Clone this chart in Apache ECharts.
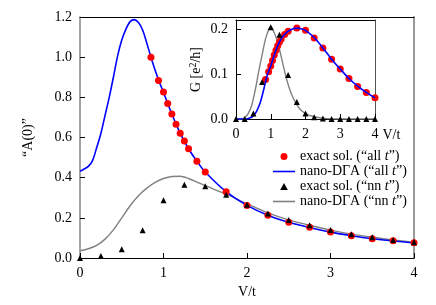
<!DOCTYPE html>
<html><head><meta charset="utf-8">
<script src="https://cdn.jsdelivr.net/npm/echarts@6/dist/echarts.min.js"></script>
<style>html,body{margin:0;padding:0;background:#fff}#c{width:436px;height:305px}</style>
</head><body><div id="c"></div>
<script>
// ---- Main plot data: A(0) vs V/t ----
const mainExactAll = [[0.85,1.0],[0.94,0.884],[1.0,0.826],[1.05,0.769],[1.1,0.717],[1.15,0.666],[1.2,0.621],[1.25,0.583],[1.3,0.544],[1.4,0.482],[1.5,0.428],[1.75,0.330],[2,0.262],[2.25,0.213],[2.5,0.178],[2.75,0.153],[3,0.129],[3.25,0.111],[3.5,0.096],[3.75,0.086],[4,0.076]];
const mainDGAAll = [[0,0.432],[0.05,0.443],[0.1,0.456],[0.15,0.485],[0.2,0.55],[0.25,0.62],[0.3,0.71],[0.35,0.80],[0.4,0.90],[0.45,1.005],[0.5,1.085],[0.55,1.14],[0.6,1.177],[0.65,1.187],[0.7,1.172],[0.75,1.135],[0.8,1.07],[0.85,1.0],[0.9,0.935],[0.95,0.877],[1.0,0.824],[1.1,0.717],[1.2,0.621],[1.3,0.544],[1.4,0.482],[1.5,0.428],[1.75,0.330],[2.0,0.262],[2.25,0.213],[2.5,0.178],[2.75,0.152],[3.0,0.129],[3.25,0.111],[3.5,0.096],[3.75,0.085],[4.0,0.075]];
const mainExactNN = [[0,0],[0.25,0.01],[0.5,0.043],[0.75,0.138],[1,0.287],[1.25,0.365],[1.5,0.357],[1.75,0.315],[2,0.265],[2.25,0.222],[2.5,0.189],[2.75,0.163],[3,0.139],[3.25,0.118],[3.5,0.103],[3.75,0.09],[4,0.078]];
const mainDGANN = [[0,0.036],[0.1,0.046],[0.2,0.063],[0.3,0.094],[0.4,0.14],[0.5,0.2],[0.6,0.26],[0.7,0.31],[0.8,0.348],[0.9,0.377],[1.0,0.396],[1.1,0.406],[1.2,0.407],[1.3,0.396],[1.4,0.378],[1.5,0.36],[1.75,0.318],[2.0,0.27],[2.25,0.225],[2.5,0.19],[2.75,0.163],[3.0,0.139],[3.25,0.119],[3.5,0.103],[3.75,0.09],[4.0,0.079]];
// ---- Inset data: G vs V/t ----
const insetExactAll = [[0.85,0.088],[0.94,0.105],[1.0,0.118],[1.05,0.13],[1.1,0.142],[1.15,0.153],[1.2,0.163],[1.25,0.171],[1.3,0.178],[1.4,0.188],[1.5,0.195],[1.75,0.202],[2,0.197],[2.25,0.18],[2.5,0.158],[2.75,0.133],[3,0.111],[3.25,0.09],[3.5,0.072],[3.75,0.059],[4,0.047]];
const insetDGAAll = [[0,0],[0.3,0],[0.4,0.002],[0.5,0.007],[0.6,0.018],[0.7,0.037],[0.8,0.066],[0.9,0.098],[1.0,0.118],[1.1,0.142],[1.2,0.163],[1.3,0.178],[1.4,0.188],[1.5,0.195],[1.6,0.199],[1.75,0.202],[1.9,0.2],[2.0,0.197],[2.25,0.181],[2.5,0.158],[2.75,0.133],[3,0.111],[3.25,0.09],[3.5,0.073],[3.75,0.059],[4,0.047]];
const insetExactNN = [[0,0],[0.25,0],[0.5,0.012],[0.75,0.082],[1,0.204],[1.25,0.187],[1.5,0.098],[1.75,0.038],[2,0.012],[2.25,0.004],[2.5,0.001],[2.75,0],[3,0],[3.25,0],[3.5,0],[3.75,0],[4,0]];
const insetDGANN = [[0,0],[0.15,0],[0.25,0.003],[0.35,0.012],[0.45,0.03],[0.55,0.063],[0.65,0.104],[0.75,0.142],[0.85,0.178],[0.95,0.2],[1.0,0.206],[1.05,0.2],[1.15,0.182],[1.25,0.155],[1.35,0.122],[1.45,0.09],[1.55,0.065],[1.65,0.046],[1.75,0.032],[1.85,0.021],[2.0,0.012],[2.25,0.005],[2.5,0.002],[3,0],[4,0]];
// ---- Labels ----
const seriesNames = ['exact sol. (“all t”)','nano-DΓA (“all t”)','exact sol. (“nn t”)','nano-DΓA (“nn t”)'];
const mainXName = 'V/t';
const mainYName = '“A(0)”';
const insetXName = 'V/t';

const FF = '"Liberation Serif","DejaVu Serif",serif';
const lbl = {fontFamily: FF, fontSize: 14, color: '#000'};
const lgd = {fontFamily: FF, fontSize: 14, color: '#000'};
const chart = echarts.init(document.getElementById('c'), null, {renderer: 'canvas'});

function baseX(grid, pos, show, color, extra) {
  return Object.assign({
    type: 'value', gridIndex: grid, position: pos, min: 0, max: 4, interval: 1,
    axisLine: {show: true, onZero: false, lineStyle: {color: color, width: 1}},
    axisTick: {show: show, inside: true, length: 5, lineStyle: {color: '#000'}},
    axisLabel: Object.assign({show: show, margin: 8}, lbl),
    splitLine: {show: false}
  }, extra || {});
}
function baseY(grid, pos, show, color, max, interval, extra) {
  return Object.assign({
    type: 'value', gridIndex: grid, position: pos, min: 0, max: max, interval: interval,
    axisLine: {show: true, onZero: false, lineStyle: {color: color, width: 1}},
    axisTick: {show: show, inside: true, length: 5, lineStyle: {color: '#000'}},
    axisLabel: Object.assign({show: show, margin: 8, formatter: v => v.toFixed(1)}, lbl),
    splitLine: {show: false}
  }, extra || {});
}

const lineIcon = 'path://M0,0H22V1.6H0Z';
const triIcon = 'path://M0,10L5.5,0L11,10Z';

chart.setOption({
  animation: false,
  backgroundColor: '#fff',
  grid: [
    {left: 80, right: 22, top: 17, bottom: 47},
    {left: 236, right: 61, top: 20, bottom: 186}
  ],
  xAxis: [
    baseX(0, 'bottom', true, '#000', {name: mainXName, nameLocation: 'middle', nameGap: 21, nameTextStyle: lbl}),
    baseX(0, 'top', false, '#000'),
    baseX(1, 'bottom', true, '#000', {name: insetXName, nameLocation: 'end', nameGap: 7,
      nameTextStyle: Object.assign({verticalAlign: 'top', padding: [9, 0, 0, 0]}, lbl)}),
    baseX(1, 'top', false, '#000')
  ],
  yAxis: [
    baseY(0, 'left', true, '#888', 1.2, 0.2, {name: mainYName, nameLocation: 'middle', nameGap: 45, nameTextStyle: lbl, axisLine: {show: true, onZero: false, lineStyle: {color: '#888', width: 1.5}}}),
    baseY(0, 'right', false, '#999', 1.2, 0.2, {axisLine: {show: true, onZero: false, lineStyle: {color: '#999', width: 2}}}),
    baseY(1, 'left', true, '#000', 0.22, 0.1, {name: 'G [e{s|2}/h]', nameLocation: 'middle', nameGap: 32,
      nameTextStyle: Object.assign({rich: {s: {fontFamily: FF, fontSize: 10, verticalAlign: 'top', padding: [0, 0, 6, 0]}}}, lbl)}),
    baseY(1, 'right', false, '#555', 0.22, 0.1)
  ],
  legend: {
    orient: 'vertical', left: 268, top: 144, itemWidth: 22, itemHeight: 7, itemGap: 0,
    symbolKeepAspect: true,
    data: [
      {name: seriesNames[0], icon: 'circle'},
      {name: seriesNames[1], icon: lineIcon},
      {name: seriesNames[2], icon: triIcon},
      {name: seriesNames[3], icon: lineIcon}
    ],
    formatter: name => name.replace(/t”\)$/, '{i|t}”)'),
    textStyle: Object.assign({lineHeight: 15, rich: {i: {fontFamily: FF, fontSize: 14, fontStyle: 'italic', color: '#000'}}}, lgd)
  },
  series: [
    {name: seriesNames[1], type: 'line', xAxisIndex: 0, yAxisIndex: 0, data: mainDGAAll, symbol: 'none', smooth: 0.3, lineStyle: {color: '#0000ff', width: 1.6}, itemStyle: {color: '#0000ff'}, z: 3},
    {name: seriesNames[3], type: 'line', xAxisIndex: 0, yAxisIndex: 0, data: mainDGANN, symbol: 'none', smooth: 0.3, lineStyle: {color: '#808080', width: 1.4}, itemStyle: {color: '#808080'}, z: 2},
    {name: seriesNames[0], type: 'scatter', xAxisIndex: 0, yAxisIndex: 0, data: mainExactAll, symbol: 'circle', symbolSize: 7, itemStyle: {color: '#ff0000', opacity: 1}, z: 4},
    {name: seriesNames[2], type: 'scatter', xAxisIndex: 0, yAxisIndex: 0, data: mainExactNN, symbol: 'triangle', symbolSize: 6, itemStyle: {color: '#000', opacity: 1}, z: 5},
    {name: seriesNames[3], type: 'line', xAxisIndex: 2, yAxisIndex: 2, data: insetDGANN, symbol: 'none', smooth: 0.3, lineStyle: {color: '#808080', width: 1.4}, itemStyle: {color: '#808080'}, z: 2},
    {name: seriesNames[0], type: 'scatter', xAxisIndex: 2, yAxisIndex: 2, data: insetExactAll, symbol: 'circle', symbolSize: 7, itemStyle: {color: '#ff0000', opacity: 1}, z: 3},
    {name: seriesNames[1], type: 'line', xAxisIndex: 2, yAxisIndex: 2, data: insetDGAAll, symbol: 'none', smooth: 0.3, lineStyle: {color: '#0000ff', width: 1.6}, itemStyle: {color: '#0000ff'}, z: 4},
    {name: seriesNames[2], type: 'scatter', xAxisIndex: 2, yAxisIndex: 2, data: insetExactNN, symbol: 'triangle', symbolSize: 6, itemStyle: {color: '#000', opacity: 1}, z: 5}
  ]
});
</script>
</body></html>
